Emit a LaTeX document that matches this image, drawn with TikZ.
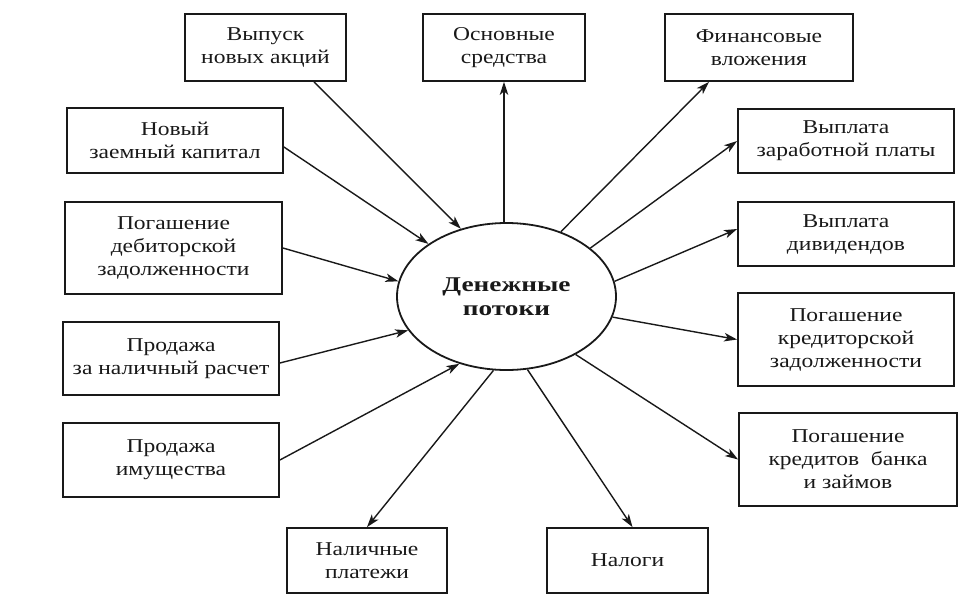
\documentclass[tikz,border=0pt]{standalone}
\usepackage{fontspec}
\setmainfont{Liberation Serif}[FakeStretch=1.2]
\newfontfamily\ellfont{Liberation Serif}[FakeStretch=1.3]
\usetikzlibrary{arrows.meta,shapes.geometric}
\begin{document}
\begin{tikzpicture}[x=1pt,y=-1pt,
  box/.style={draw=black!90,line width=1.8pt,inner sep=0pt,align=center,
    font=\fontsize{19.6}{23}\selectfont,text=black!90},
  flow/.style={line width=1.4pt,draw=black!90,-{Stealth[length=13pt,width=8.5pt,inset=3.5pt]}}]
\useasboundingbox (0,0) rectangle (975,608);
\node[draw=black!90,line width=1.8pt,ellipse,minimum width=219pt,minimum height=147pt,inner sep=0pt,
  align=center,font=\ellfont\bfseries\fontsize{21}{24}\selectfont,text=black!90] (e) at (506.5,296.5) {Денежные\\потоки};
\node[box,minimum width=161pt,minimum height=67pt] (b1) at (265.5,47.5) {Выпуск\\новых акций};
\node[box,minimum width=162pt,minimum height=67pt] (b2) at (504,47.5) {Основные\\средства};
\node[box,minimum width=188pt,minimum height=67pt] (b3) at (759,47.5) {Финансовые\\вложения};
\node[box,minimum width=216pt,minimum height=65pt] (b4) at (175,140.5) {Новый\\заемный капитал};
\node[box,minimum width=217pt,minimum height=92pt] (b5) at (173.5,248) {Погашение\\дебиторской\\задолженности};
\node[box,minimum width=216pt,minimum height=73pt] (b6) at (171,358.5) {Продажа\\за наличный расчет};
\node[box,minimum width=216pt,minimum height=74pt] (b7) at (171,460) {Продажа\\имущества};
\node[box,minimum width=216pt,minimum height=64pt] (b8) at (846,141) {Выплата\\заработной платы};
\node[box,minimum width=216pt,minimum height=64pt] (b9) at (846,234) {Выплата\\дивидендов};
\node[box,minimum width=216pt,minimum height=93pt] (b10) at (846,339.5) {Погашение\\кредиторской\\задолженности};
\node[box,minimum width=218pt,minimum height=93pt] (b11) at (848,459.5) {Погашение\\кредитов\ \ банка\\и займов};
\node[box,minimum width=160pt,minimum height=65pt] (b12) at (367,560.5) {Наличные\\платежи};
\node[box,minimum width=161pt,minimum height=65pt] (b13) at (627.5,560.5) {Налоги};
% inflows
\draw[flow] ([xshift=48.5pt]b1.south) -- (e.124);
\draw[flow] ([yshift=-6.5pt]b4.east) -- (e.146);
\draw[flow] (b5.east) -- (e.172);
\draw[flow] ([yshift=-4.5pt]b6.east) -- (e.199);
\draw[flow] (b7.east) -- (e.235);
% outflows
\draw[flow] (e.north -| b2.south) -- (b2.south);
\draw[flow] (e.50) -- ([xshift=-50pt]b3.south);
\draw[flow] (e.30) -- (b8.west);
\draw[flow] (e.8) -- ([yshift=5pt]b9.west);
\draw[flow] (e.349) -- (b10.west);
\draw[flow] (e.320) -- (b11.west);
\draw[flow] (e.260) -- (b12.north);
\draw[flow] (e.286) -- ([xshift=5pt]b13.north);
\end{tikzpicture}
\end{document}
